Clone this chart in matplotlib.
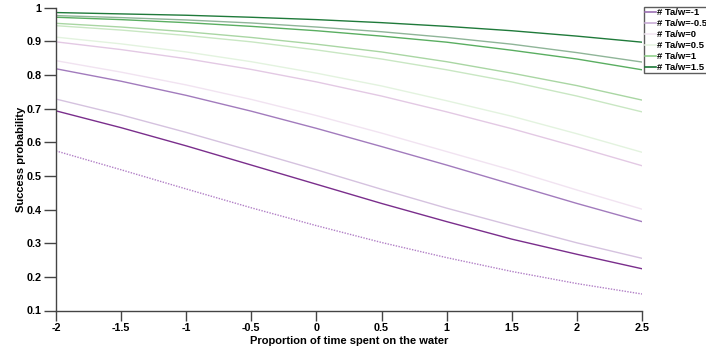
import matplotlib
matplotlib.use("Agg")
import matplotlib.pyplot as plt
from matplotlib.lines import Line2D

plt.rcParams['font.family'] = ['Liberation Sans', 'DejaVu Sans']
plt.rcParams['font.weight'] = 'bold'
plt.rcParams['axes.unicode_minus'] = False

# Proportion of time spent on the water (standardised)
x = [-2, -1.5, -1, -0.5, 0, 0.5, 1, 1.5, 2, 2.5]

# Predicted success probability curves, top to bottom
curves = {
    "c01": [0.985, 0.981, 0.977, 0.971, 0.964, 0.955, 0.944, 0.931, 0.915, 0.897],
    "c02": [0.976, 0.970, 0.963, 0.954, 0.942, 0.928, 0.911, 0.891, 0.866, 0.838],
    "c03": [0.971, 0.964, 0.955, 0.944, 0.931, 0.915, 0.897, 0.873, 0.847, 0.815],
    "c04": [0.953, 0.942, 0.928, 0.911, 0.891, 0.868, 0.839, 0.805, 0.768, 0.725],
    "c05": [0.946, 0.933, 0.917, 0.898, 0.874, 0.847, 0.815, 0.779, 0.737, 0.690],
    "c06": [0.912, 0.892, 0.868, 0.839, 0.805, 0.767, 0.723, 0.677, 0.625, 0.570],
    "c07": [0.898, 0.875, 0.848, 0.816, 0.779, 0.737, 0.690, 0.640, 0.586, 0.530],
    "c08": [0.842, 0.808, 0.770, 0.727, 0.679, 0.627, 0.572, 0.517, 0.458, 0.401],
    "c09": [0.818, 0.781, 0.739, 0.692, 0.641, 0.587, 0.532, 0.475, 0.418, 0.364],
    "c10": [0.728, 0.681, 0.629, 0.574, 0.518, 0.460, 0.404, 0.352, 0.301, 0.255],
    "c11": [0.693, 0.643, 0.589, 0.532, 0.475, 0.418, 0.364, 0.312, 0.267, 0.224],
    "c12": [0.574, 0.518, 0.461, 0.405, 0.352, 0.302, 0.257, 0.216, 0.180, 0.149],
}

# Ta/w levels shown in the legend
ta_w = [-1, -0.5, 0, 0.5, 1, 1.5]

curve_styles = {
    "c01": ("#1f7a3a", "-"),
    "c02": ("#8fb598", "-"),
    "c03": ("#5aae61", "-"),
    "c04": ("#a9d6a3", "-"),
    "c05": ("#c9e7c3", "-"),
    "c06": ("#e3f3df", "-"),
    "c07": ("#e3c9e4", "-"),
    "c08": ("#f1e3f1", "-"),
    "c09": ("#a27bbd", "-"),
    "c10": ("#d5c2df", "-"),
    "c11": ("#7a2e8c", "-"),
    "c12": ("#b17fc6", ":"),
}
legend_colors = ["#9b70b3", "#c8abd6", "#f2e6f2", "#e6f4e2", "#8fcf8a", "#1b7837"]

fig = plt.figure(figsize=(7.06, 3.56), dpi=100)
ax = fig.add_axes([56 / 706, 1 - 310.5 / 356, (642 - 56) / 706, (310.5 - 7.5) / 356])

for key, vals in curves.items():
    col, ls = curve_styles[key]
    ax.plot(x, vals, color=col, linestyle=ls, linewidth=1.0,
            dashes=(1, 1) if ls == ":" else (None, None))

ax.set_xlim(-2, 2.5)
ax.set_ylim(0.1, 1)
ax.set_xticks([-2, -1.5, -1, -0.5, 0, 0.5, 1, 1.5, 2, 2.5])
ax.set_xticklabels(["-2", "-1.5", "-1", "-0.5", "0", "0.5", "1", "1.5", "2", "2.5"])
ax.set_yticks([0.1, 0.2, 0.3, 0.4, 0.5, 0.6, 0.7, 0.8, 0.9, 1])
ax.set_yticklabels(["0.1", "0.2", "0.3", "0.4", "0.5", "0.6", "0.7", "0.8", "0.9", "1"])

for side in ("top", "right"):
    ax.spines[side].set_visible(False)
for side in ("left", "bottom"):
    ax.spines[side].set_color("#444444")
    ax.spines[side].set_linewidth(1.0)

ax.tick_params(axis="y", direction="out", length=8.6, width=1.0, color="#444444",
               pad=2, labelsize=7.8)
ax.tick_params(axis="x", direction="out", length=7.2, width=1.0, color="#444444",
               pad=2, labelsize=7.8)
for lab in ax.get_xticklabels() + ax.get_yticklabels():
    lab.set_fontweight("bold")

ax.set_xlabel("Proportion of time spent on the water", fontsize=8,
              fontweight="bold", labelpad=2)
ax.set_ylabel("Success probability", fontsize=8, fontweight="bold", labelpad=0)

handles = [Line2D([0], [0], color=c, linewidth=1.2) for c in legend_colors]
labels = [f"# Ta/w={v:g}" for v in ta_w]
leg = fig.legend(handles, labels, loc="upper left",
                 bbox_to_anchor=(644 / 706, 1 - 7 / 356), fontsize=6.8,
                 frameon=True, fancybox=False, edgecolor="#333333",
                 borderpad=0.15, labelspacing=0.2, handlelength=1.1,
                 handletextpad=0.15, borderaxespad=0)
leg.get_frame().set_linewidth(1.0)
for t in leg.get_texts():
    t.set_fontweight("bold")

fig.savefig("out.png", dpi=100)
